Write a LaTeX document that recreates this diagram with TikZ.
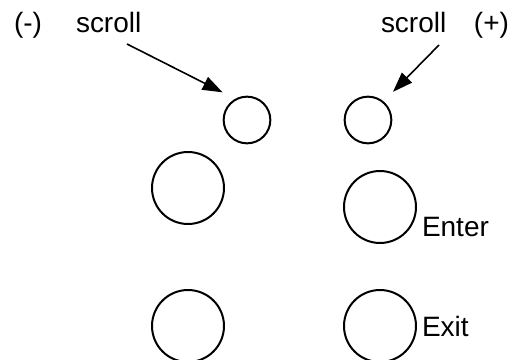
\documentclass[tikz,border=0pt]{standalone}
\usepackage{fontspec}
\setmainfont{Liberation Sans}
\usetikzlibrary{arrows.meta}

\tikzset{every picture/.style={line width=1.5pt}}
\tikzset{
  knob/.style={draw, circle, inner sep=0pt},
  smallknob/.style={knob, minimum size=35pt},
  bigknob/.style={knob, minimum size=54pt},
  caption/.style={anchor=base west, inner sep=0pt, font=\fontsize{21}{25}\selectfont},
  pointer/.style={-{Triangle[length=15pt,width=10.5pt]}, line width=1.2pt}
}

\begin{document}
\begin{tikzpicture}[x=0.75pt,y=0.75pt,yscale=-1,xscale=1]
\useasboundingbox (0,0) rectangle (512,360);
\clip (0,0) rectangle (512,360);

%Shape: Circle [scroll minus]
\node [smallknob] (scrollMinus) at (247,120) {};
%Shape: Circle [scroll plus]
\node [smallknob] (scrollPlus) at (368,120) {};
%Shape: Circle [left top]
\node [bigknob] (leftTop) at (188,188) {};
%Shape: Circle [enter]
\node [bigknob] (enterKnob) at (380,207) {};
%Shape: Circle [left bottom]
\node [bigknob] (leftBottom) at (188,326) {};
%Shape: Circle [exit]
\node [bigknob] (exitKnob) at (380,326) {};

% Text Node
\node [caption] (minusSign) at (13,33) {(-)};
% Text Node
\node [caption] (scrollLeft) at (75,33) {scroll};
% Text Node
\node [caption] (scrollRight) at (380,33) {scroll};
% Text Node
\node [caption] (plusSign) at (473,33) {(+)};
% Text Node
\node [caption] (enterText) at (421,237) {Enter};
% Text Node
\node [caption] (exitText) at (421,337) {Exit};

%Arrows
\coordinate (tailMinus) at (127,44);
\coordinate (tailPlus) at (439,45);
\draw [pointer, shorten >=10.6pt] (tailMinus) -- (scrollMinus.119);
\draw [pointer, shorten >=10pt] (tailPlus) -- (scrollPlus.50);

\end{tikzpicture}
\end{document}
